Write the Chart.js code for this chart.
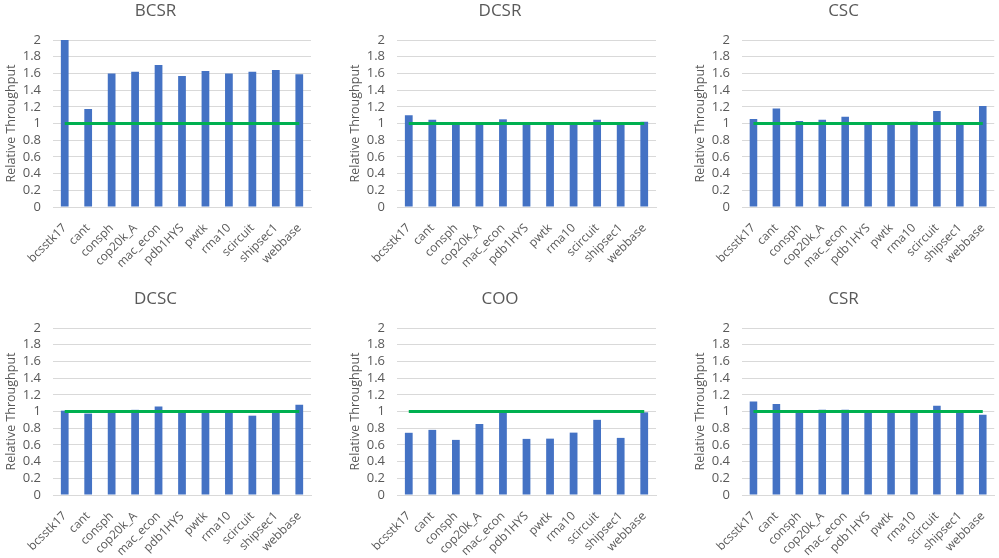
<!DOCTYPE html>
<html>
<head>
<meta charset="utf-8">
<script src="https://cdn.jsdelivr.net/npm/chart.js@4"></script>
<style>
  body { margin: 0; background: #fff; width: 999px; height: 558px; overflow: hidden; position: relative; }
  canvas { position: absolute; }
</style>
</head>
<body>
<canvas id="c0" width="333" height="270" style="left:0;top:0"></canvas>
<canvas id="c1" width="333" height="270" style="left:333px;top:0"></canvas>
<canvas id="c2" width="333" height="270" style="left:666px;top:0"></canvas>
<canvas id="c3" width="333" height="270" style="left:0;top:288px"></canvas>
<canvas id="c4" width="333" height="270" style="left:333px;top:288px"></canvas>
<canvas id="c5" width="333" height="270" style="left:666px;top:288px"></canvas>
<script>
const matrices = ["bcsstk17", "cant", "consph", "cop20k_A", "mac_econ", "pdb1HYS",
  "pwtk", "rma10", "scircuit", "shipsec1", "webbase"];
const baseline = [1, 1, 1, 1, 1, 1, 1, 1, 1, 1, 1];

const bcsr = [2.0, 1.175, 1.60, 1.62, 1.70, 1.57, 1.63, 1.60, 1.62, 1.64, 1.59];
const dcsr = [1.10, 1.045, 1.0, 0.99, 1.05, 1.0, 1.0, 0.995, 1.045, 0.99, 1.02];
const csc = [1.055, 1.18, 1.03, 1.045, 1.08, 1.015, 1.0, 1.02, 1.15, 1.0, 1.21];
const dcsc = [1.01, 0.975, 1.0, 1.02, 1.06, 1.0, 1.0, 0.985, 0.95, 1.0, 1.08];
const coo = [0.745, 0.78, 0.66, 0.85, 1.0, 0.672, 0.675, 0.747, 0.90, 0.684, 0.99];
const csr = [1.12, 1.09, 1.0, 1.02, 1.02, 1.0, 1.0, 1.0, 1.07, 1.0, 0.96];

const panels = [
  { id: 'c0', title: 'BCSR', values: bcsr, padLeft: 0, padRight: 22 },
  { id: 'c1', title: 'DCSR', values: dcsr, padLeft: 11, padRight: 10 },
  { id: 'c2', title: 'CSC', values: csc, padLeft: 23, padRight: 1 },
  { id: 'c3', title: 'DCSC', values: dcsc, padLeft: 0, padRight: 22 },
  { id: 'c4', title: 'COO', values: coo, padLeft: 11, padRight: 10 },
  { id: 'c5', title: 'CSR', values: csr, padLeft: 23, padRight: 1 }
];

const font = "'Open Sans', 'Noto Sans', sans-serif";
const grey = '#595959';

panels.forEach(p => {
  const ctx = document.getElementById(p.id).getContext('2d');
  new Chart(ctx, {
    type: 'bar',
    data: {
      labels: matrices,
      datasets: [{
        type: 'line',
        data: baseline,
        borderColor: '#00B050',
        borderWidth: 3,
        pointRadius: 0,
        order: 0
      }, {
        data: p.values,
        backgroundColor: '#4472C4',
        categoryPercentage: 1,
        barPercentage: 0.33,
        order: 1
      }]
    },
    options: {
      responsive: false,
      animation: false,
      layout: { padding: { left: p.padLeft, right: p.padRight, top: 0, bottom: 0 } },
      plugins: {
        legend: { display: false },
        tooltip: { enabled: false },
        title: {
          display: true,
          text: p.title,
          color: grey,
          font: { family: font, size: 17, weight: 'normal' },
          padding: { top: 1, bottom: 18.6 }
        }
      },
      scales: {
        y: {
          min: 0,
          max: 2,
          ticks: {
            stepSize: 0.2, autoSkip: false, color: grey,
            font: { family: font, size: 13 }, padding: 12,
            callback: v => String(Number(v.toFixed(1)))
          },
          grid: { color: '#d9d9d9', drawTicks: false },
          border: { display: false },
          title: { display: true, text: 'Relative Throughput', color: grey, font: { family: font, size: 12.5 }, padding: 4 },
          afterFit: s => { s.width = 53; }
        },
        x: {
          ticks: { autoSkip: false, color: grey, font: { family: font, size: 12 }, minRotation: 45, maxRotation: 45, padding: 6 },
          grid: { display: false },
          border: { color: '#d9d9d9' },
          afterFit: s => { s.height = 63; }
        }
      }
    }
  });
});
</script>
</body>
</html>
